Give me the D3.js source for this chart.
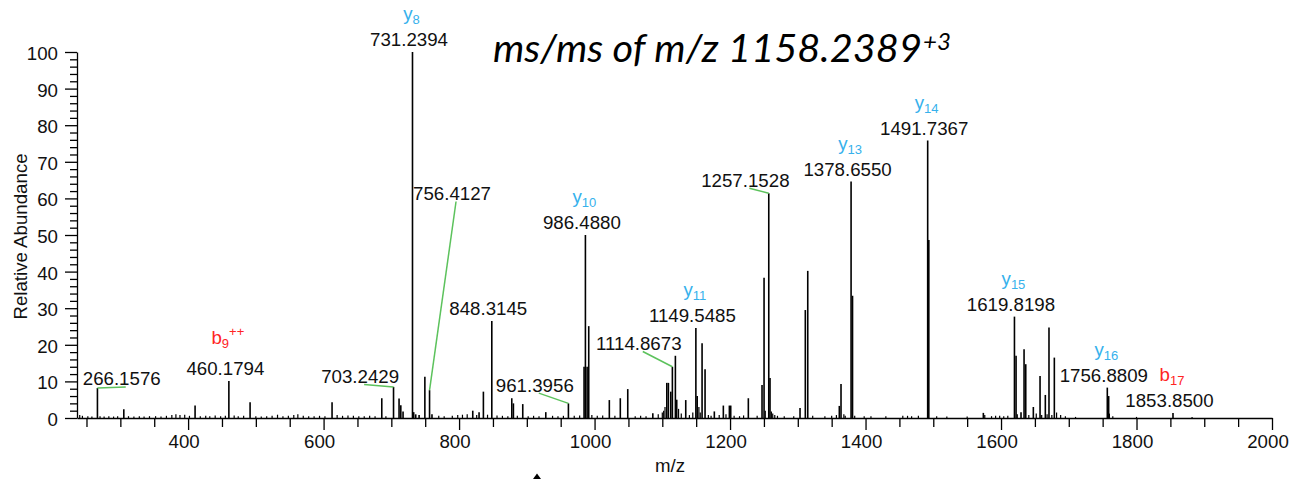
<!DOCTYPE html>
<html>
<head>
<meta charset="utf-8">
<script src="https://cdn.jsdelivr.net/npm/d3@7/dist/d3.min.js"></script>
<style>
    html, body { margin: 0; padding: 0; background: #fff; overflow: hidden; }
    svg { display: block; }
    .axis text { font-family: "Liberation Sans", Arial, sans-serif; font-size: 18.7px; fill: #111; }
    .axis path, .axis line { stroke: #000; stroke-width: 1.3; }
    .peak { stroke: #000; stroke-width: 1.6; }
    .noise { stroke: #000; stroke-width: 1.2; }
    .mz-label { font-family: "Liberation Sans", Arial, sans-serif; font-size: 18.7px; fill: #111; }
    .ion-label { font-family: "Liberation Sans", Arial, sans-serif; font-size: 18.7px; }
    .leader { stroke: #5cc25c; stroke-width: 1.5; fill: none; }
</style>
</head>
<body>
<svg id="chart" width="1291" height="479"></svg>
<script>
// ---- data ----
// main fragment peaks: m/z and relative abundance (%)
const peakMz = [
    266.16, 305.1, 410.3, 460.18, 491.5, 612.5, 685.9, 703.24, 711.4, 714.0, 717.3,
    731.24, 733.0, 736.0, 741.0, 749.5, 756.41, 760.0, 820.2, 829.5, 835.9, 848.31,
    877.8, 880.2, 894.0, 928.0, 961.40, 984.5, 986.49, 989.0, 991.4, 1021.8, 1038.0,
    1049.0, 1086.0, 1106.6, 1109.0, 1112.5, 1114.87, 1119.3, 1121.3, 1134.6, 1149.55,
    1151.5, 1158.7, 1163.1, 1176.8, 1190.1, 1199.0, 1201.0, 1227.0, 1247.2, 1250.2,
    1257.15, 1259.0, 1303.3, 1311.1, 1314.7, 1361.3, 1363.8, 1378.66, 1380.8, 1491.74,
    1493.4, 1573.9, 1619.82, 1622.2, 1629.5, 1634.0, 1636.5, 1647.7, 1657.6, 1665.4,
    1670.8, 1678.7, 1756.88, 1758.9, 1853.85
];
const peakInt = [
    8.2, 2.4, 3.4, 10.1, 4.3, 4.3, 5.4, 8.5, 5.3, 3.5, 1.8,
    100, 1.6, 1.0, 0.8, 11.3, 7.6, 1.0, 2.0, 1.6, 7.2, 26.5,
    5.4, 4.0, 3.8, 1.6, 4.0, 14, 50, 14, 25.1, 4.9, 5.4,
    7.9, 1.3, 9.6, 9.6, 7.2, 14, 17, 5, 4.9, 24.6,
    6, 20.4, 13.3, 1.8, 3.4, 3.4, 3.4, 5.4, 9, 38.3,
    61.4, 10.9, 2.7, 29.5, 40.2, 3.3, 9.3, 64.6, 33.4, 75.8,
    48.6, 1.4, 27.7, 17, 1.6, 18.8, 14.7, 3, 11.5, 6.3,
    24.7, 16.5, 8.3, 6, 1.4
];

// small baseline peaks
const noiseMz = [
    240, 244, 252, 258, 270, 276, 283, 290, 296, 312, 320, 328, 335, 343, 352, 360,
    368, 376, 382, 388, 395, 402, 418, 426, 432, 440, 448, 455, 468, 474, 482, 500,
    508, 516, 524, 532, 540, 548, 556, 562, 570, 578, 586, 594, 602, 620, 628, 636,
    644, 652, 660, 668, 676, 692, 770, 778, 790, 798, 805, 812, 826, 842, 856, 864,
    872, 886, 902, 910, 918, 938, 946, 954, 970, 978, 996, 1004, 1012, 1030, 1060,
    1068, 1076, 1094, 1100, 1102, 1104, 1124, 1128, 1140, 1145, 1154, 1156, 1168,
    1172, 1184, 1194, 1206, 1214, 1220, 1240, 1252, 1261, 1263, 1266, 1270, 1280,
    1294, 1322, 1340, 1350, 1357, 1368, 1370, 1384, 1398, 1408, 1430, 1455, 1462,
    1468, 1478, 1505, 1520, 1550, 1576, 1586, 1592, 1598, 1604, 1610, 1624, 1641,
    1652, 1660, 1668, 1675, 1682, 1688, 1695, 1710, 1760, 1765, 1800, 1882
];
const noiseInt = [
    0.8, 0.6, 0.5, 0.4, 0.5, 0.4, 0.5, 0.4, 0.5, 0.5, 0.4, 0.5, 0.4, 0.5, 0.5, 0.4,
    0.6, 0.8, 1.0, 0.8, 0.9, 0.6, 0.5, 0.6, 0.5, 0.7, 0.5, 0.6, 0.7, 0.5, 0.6, 0.5,
    0.4, 0.5, 0.6, 0.9, 0.5, 0.6, 0.8, 1.0, 0.6, 0.5, 0.5, 0.6, 0.5, 0.8, 0.6, 0.7,
    0.6, 0.5, 0.5, 0.6, 0.5, 0.5, 0.6, 0.5, 0.6, 0.8, 0.9, 1.0, 0.8, 0.9, 0.7, 0.6,
    0.5, 0.6, 0.5, 0.6, 0.5, 0.6, 0.5, 0.6, 0.6, 0.7, 0.8, 0.6, 0.7, 0.6, 0.5,
    0.6, 0.5, 1.0, 1.5, 2.0, 3.0, 2.5, 1.2, 0.8, 1.5, 3.0, 1.5, 0.8,
    0.6, 0.8, 1.0, 0.6, 0.5, 0.7, 0.6, 2.0, 1.8, 1.2, 0.8, 0.6, 0.5,
    0.5, 0.6, 0.5, 0.6, 0.8, 1.0, 0.6, 0.6, 0.5, 0.5, 0.5, 0.6, 0.6,
    0.5, 0.6, 0.5, 0.4, 0.4, 0.8, 0.5, 0.6, 0.6, 0.5, 0.6, 1.0, 0.8,
    1.2, 0.8, 1.0, 0.8, 1.5, 0.8, 0.5, 0.3, 1.2, 0.5, 0.3, 0.3
];

// annotated peaks
const annMz = [266.16, 460.18, 703.24, 731.24, 756.41, 848.31, 961.40, 986.49,
               1114.87, 1149.55, 1257.15, 1378.66, 1491.74, 1619.82, 1756.88, 1853.85];
const annText = ['266.1576', '460.1794', '703.2429', '731.2394', '756.4127', '848.3145',
                 '961.3956', '986.4880', '1114.8673', '1149.5485', '1257.1528', '1378.6550',
                 '1491.7367', '1619.8198', '1756.8809', '1853.8500'];
const ionType   = ['', 'b', '', 'y', '', '', '', 'y', '', 'y', '', 'y', 'y', 'y', 'y', 'b'];
const ionNum    = ['', '9', '', '8', '', '', '', '10', '', '11', '', '13', '14', '15', '16', '17'];
const ionCharge = ['', '++', '', '', '', '', '', '', '', '', '', '', '', '', '', ''];

const xMajorTicks = [400, 600, 800, 1000, 1200, 1400, 1600, 1800, 2000];
const xMinorTicks = [250, 300, 350, 450, 500, 550, 650, 700, 750, 850, 900, 950, 1050, 1100,
                     1150, 1250, 1300, 1350, 1450, 1500, 1550, 1650, 1700, 1750, 1850, 1900, 1950];
const yMajorTicks = [0, 10, 20, 30, 40, 50, 60, 70, 80, 90, 100];
const yMinorTicks = [2, 4, 6, 8, 12, 14, 16, 18, 22, 24, 26, 28, 32, 34, 36, 38, 42, 44, 46, 48,
                     52, 54, 56, 58, 62, 64, 66, 68, 72, 74, 76, 78, 82, 84, 86, 88, 92, 94, 96, 98];

// ---- layout ----
const ION_COLOR = { y: '#36b1ec', b: '#ff2424' };
// labels moved off their peak (px, label centre / baseline relative to peak top)
const moved = {
    '266.1576':  [24.3, -2.5],
    '703.2429':  [-33.4, -3.9],
    '756.4127':  [22.5, -190.2],
    '961.3956':  [-33.6, -11.7],
    '1114.8673': [-33.6, -16.8],
    '1257.1528': [-23.4, -6.6]
};
const ionLift = { '460.1794': -31 };

const svg = d3.select('#chart');

const x = d3.scaleLinear().domain([236, 2000]).range([77, 1272]);
const y = d3.scaleLinear().domain([0, 100]).range([418, 52]);

// axes
const gx = svg.append('g').attr('class', 'axis').attr('transform', `translate(0,${y(0)})`);
gx.call(d3.axisBottom(x).tickValues(xMajorTicks).tickSize(12).tickSizeOuter(0)
    .tickPadding(4.7).tickFormat(d3.format('d')));
gx.selectAll('.tick text').attr('dx', -4.5);
svg.append('g').attr('class', 'axis').attr('transform', `translate(0,${y(0)})`)
    .call(d3.axisBottom(x).tickValues(xMinorTicks).tickSize(9).tickFormat(''))
    .select('.domain').remove();

const gy = svg.append('g').attr('class', 'axis').attr('transform', `translate(${x(236)},0)`);
gy.call(d3.axisLeft(y).tickValues(yMajorTicks).tickSize(12).tickSizeOuter(0).tickPadding(7));
gy.selectAll('.tick text').attr('dy', '0.4em');
svg.append('g').attr('class', 'axis').attr('transform', `translate(${x(236)},0)`)
    .call(d3.axisLeft(y).tickValues(yMinorTicks).tickSize(7).tickFormat(''))
    .select('.domain').remove();

// peaks
const noise = noiseMz.map((m, i) => ({ mz: m, v: noiseInt[i] }));
svg.append('g').selectAll('line').data(noise).join('line')
    .attr('class', 'noise')
    .attr('x1', d => x(d.mz)).attr('x2', d => x(d.mz))
    .attr('y1', y(0)).attr('y2', d => y(d.v));

const peaks = peakMz.map((m, i) => ({ mz: m, v: peakInt[i] }));
svg.append('g').selectAll('line').data(peaks).join('line')
    .attr('class', 'peak')
    .attr('x1', d => x(d.mz)).attr('x2', d => x(d.mz))
    .attr('y1', y(0)).attr('y2', d => y(d.v));

// annotations
const intByMz = new Map(peaks.map(p => [p.mz, p.v]));
const ann = annMz.map((m, i) => {
    const px = x(m), py = y(intByMz.get(m));
    const off = moved[annText[i]];
    return {
        text: annText[i], px, py,
        lx: off ? px + off[0] : px - 3.5,
        ly: off ? py + off[1] : py - 6,
        ion: ionType[i], num: ionNum[i], chg: ionCharge[i],
        lift: ionLift[annText[i]] ?? -26,
        leader: !!off
    };
});

svg.append('g').selectAll('line').data(ann.filter(d => d.leader)).join('line')
    .attr('class', 'leader')
    .attr('x1', d => d.px).attr('y1', d => d.py)
    .attr('x2', d => d.lx + 4).attr('y2', d => d.ly + 1.5);

svg.append('g').selectAll('text').data(ann).join('text')
    .attr('class', 'mz-label')
    .attr('text-anchor', 'middle')
    .attr('x', d => d.lx).attr('y', d => d.ly)
    .text(d => d.text);

const ions = svg.append('g').selectAll('text').data(ann.filter(d => d.ion)).join('text')
    .attr('class', 'ion-label')
    .attr('text-anchor', 'middle')
    .attr('fill', d => ION_COLOR[d.ion])
    .attr('x', d => d.px - 1).attr('y', d => d.ly + d.lift);
ions.append('tspan').text(d => d.ion);
ions.append('tspan').attr('font-size', 13).attr('dy', 4).text(d => d.num);
ions.filter(d => d.chg).append('tspan').attr('font-size', 13).attr('dy', -12).text(d => d.chg);

// titles
svg.append('text')
    .attr('transform', 'translate(26.5,236.5) rotate(-90)')
    .attr('text-anchor', 'middle')
    .style('font-family', '"Liberation Sans", Arial, sans-serif')
    .style('font-size', '18.7px').attr('fill', '#111')
    .text('Relative Abundance');

svg.append('text')
    .attr('x', 670).attr('y', 472)
    .attr('text-anchor', 'middle')
    .style('font-family', '"Liberation Sans", Arial, sans-serif')
    .style('font-size', '18.7px').attr('fill', '#111')
    .text('m/z');

svg.append('text')
    .attr('x', 493).attr('y', 62)
    .attr('textLength', 429).attr('lengthAdjust', 'spacingAndGlyphs')
    .style('font-family', 'Lato, "Open Sans", sans-serif')
    .style('font-style', 'italic')
    .style('font-size', '38px').attr('fill', '#000')
    .text('ms/ms of m/z 1158.2389');
svg.append('text')
    .attr('x', 923).attr('y', 50)
    .style('font-family', 'Lato, "Open Sans", sans-serif')
    .style('font-style', 'italic')
    .style('font-size', '24px').attr('fill', '#000')
    .text('+3');

// tip of a panel mark cut off by the bottom edge
svg.append('path')
    .attr('d', 'M533,479 L537,473.5 L541,479 Z')
    .attr('fill', '#000');
</script>
</body>
</html>
